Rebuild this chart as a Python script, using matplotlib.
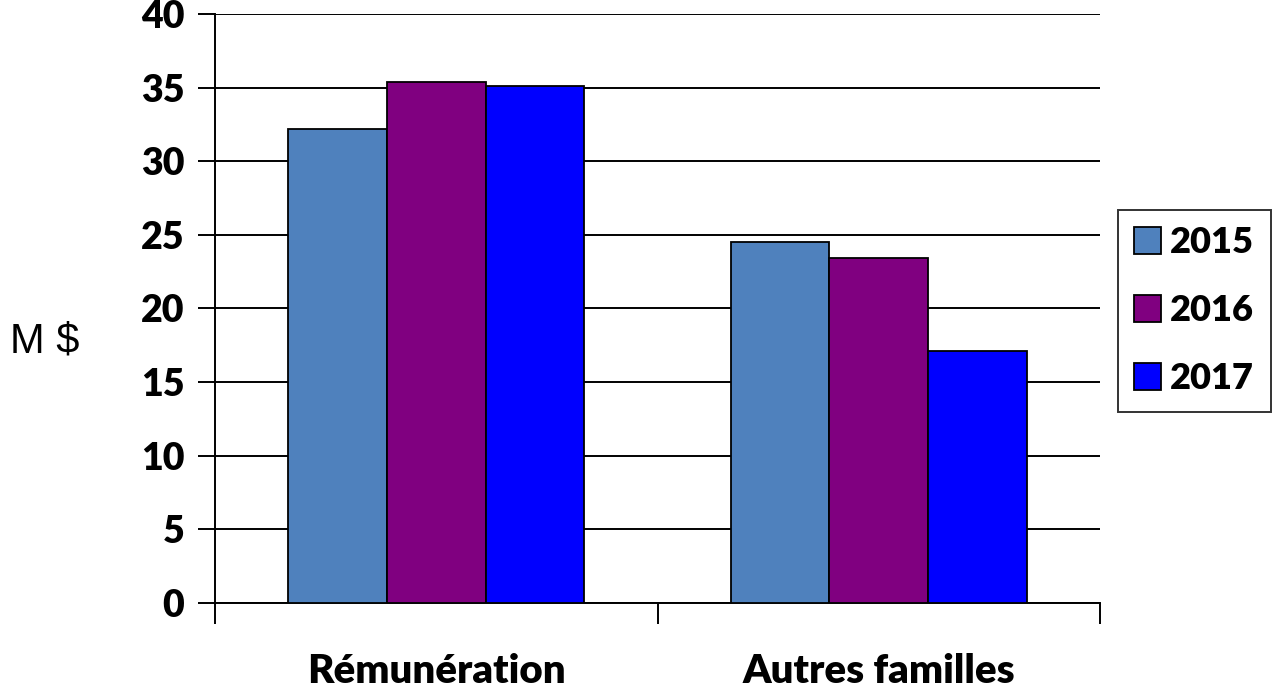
import matplotlib
matplotlib.use("Agg")
import matplotlib.pyplot as plt
import numpy as np
from matplotlib.patches import Patch

categories = ["Rémunération", "Autres familles"]
years = ["2015", "2016", "2017"]
values_2015 = [32.2, 24.5]
values_2016 = [35.4, 23.4]
values_2017 = [35.1, 17.1]
colors = ["#4F81BD", "#800080", "#0000FF"]
y_ticks = [0, 5, 10, 15, 20, 25, 30, 35, 40]

plt.rcParams['font.family'] = ['Lato', 'DejaVu Sans']

fig = plt.figure(figsize=(12.74, 6.93), dpi=100)
ax = fig.add_axes([215/1274, 90/693, 885/1274, 589/693])

series = [values_2015, values_2016, values_2017]
x = np.arange(len(categories))
bw = 0.223
for i, (vals, col) in enumerate(zip(series, colors)):
    ax.bar(x + (i - 1) * bw, vals, width=bw, color=col, edgecolor="black",
           linewidth=1.3, zorder=3)

ax.set_xlim(-0.5, len(categories) - 0.5)
ax.set_ylim(0, 40)
ax.set_yticks(y_ticks)
ax.set_yticklabels([str(t) for t in y_ticks], fontsize=27, fontweight="heavy")
ax.yaxis.grid(True, color="black", linewidth=1.4, zorder=0)
ax.tick_params(axis="y", length=12, width=1.4, pad=10, direction="out")

ax.set_xticks(x)
ax.set_xticklabels(categories, fontsize=29, fontweight="heavy")
ax.tick_params(axis="x", which="major", length=0, pad=36)
ax.set_xticks(np.arange(-0.5, len(categories), 1.0), minor=True)
ax.tick_params(axis="x", which="minor", length=15, width=1.4, direction="out")

for s in ["top", "right"]:
    ax.spines[s].set_visible(False)
ax.spines["left"].set_linewidth(1.4)
ax.spines["bottom"].set_linewidth(1.4)
ax.set_axisbelow(True)

fig.text(45/1274, 1 - 342/693, "M $", fontsize=30, family=["Liberation Sans"],
         ha="center", va="center")

handles = [Patch(facecolor=c, edgecolor="black", linewidth=1.3) for c in colors]
leg = fig.legend(handles, years, loc="upper left",
                 bbox_to_anchor=(1118/1274, 1 - 210/693),
                 prop={"size": 26, "weight": "heavy"}, frameon=True,
                 fancybox=False, borderaxespad=0, handlelength=0.75,
                 handleheight=0.75, handletextpad=0.25, labelspacing=0.97,
                 borderpad=0.45)
leg.get_frame().set_edgecolor("black")
leg.get_frame().set_linewidth(1.4)

fig.savefig("out.png", dpi=100)
